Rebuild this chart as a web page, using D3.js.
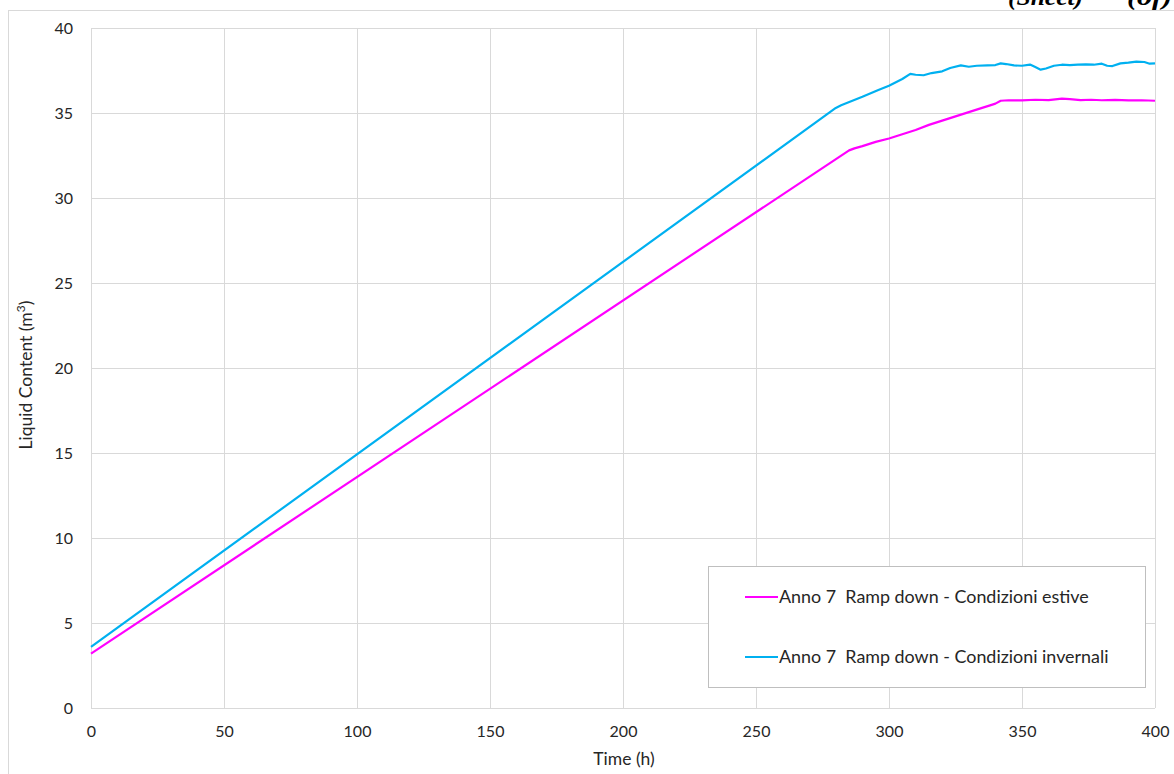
<!DOCTYPE html>
<html>
<head>
<meta charset="utf-8">
<script src="https://cdn.jsdelivr.net/npm/d3@7"></script>
<style>
  html, body { margin: 0; padding: 0; background: #fff; }
  svg { display: block; }
  text { font-family: Lato, "Open Sans", sans-serif; fill: #262626; }
</style>
</head>
<body>
<svg id="chart" width="1174" height="774"></svg>
<script>
// Liquid content over time, two seasonal scenarios
const xTicks = [0, 50, 100, 150, 200, 250, 300, 350, 400];
const yTicks = [0, 5, 10, 15, 20, 25, 30, 35, 40];

const seriesNames = [
  "Anno 7  Ramp down - Condizioni estive",
  "Anno 7  Ramp down - Condizioni invernali"
];
const seriesColors = ["#FF00FF", "#00B0F0"];

// Summer conditions (estive)
const estiveTime = [0, 285, 287, 290, 295, 300, 305, 310, 315, 320, 325, 330, 335, 338, 340,
  342, 345, 350, 355, 360, 365, 368, 372, 376, 380, 385, 390, 395, 400];
const estiveValue = [3.2, 32.8, 32.92, 33.05, 33.3, 33.5, 33.75, 34.0, 34.3, 34.55, 34.8, 35.05, 35.3, 35.45, 35.55,
  35.72, 35.75, 35.74, 35.78, 35.76, 35.85, 35.82, 35.76, 35.78, 35.75, 35.77, 35.74, 35.75, 35.72];

// Winter conditions (invernali)
const invernaliTime = [0, 280, 282, 290, 296, 300, 305, 308, 310, 313, 316, 320, 323, 327, 330, 333, 337, 340,
  342, 344, 347, 350, 353, 355, 357, 359, 362, 365, 368, 371, 374, 377, 380, 382, 384, 387, 390, 393, 396, 398, 400];
const invernaliValue = [3.6, 35.3, 35.45, 35.95, 36.35, 36.6, 37.0, 37.3, 37.25, 37.22, 37.35, 37.45, 37.65, 37.8, 37.72, 37.78, 37.8, 37.82,
  37.92, 37.88, 37.8, 37.78, 37.85, 37.7, 37.55, 37.62, 37.78, 37.84, 37.82, 37.85, 37.86, 37.84, 37.9, 37.78, 37.76, 37.92, 37.96, 38.02, 38.0, 37.9, 37.92];

const svg = d3.select("#chart");
const grid = "#D9D9D9";

// sheet frame
svg.append("line").attr("x1", 8.5).attr("x2", 8.5).attr("y1", 10.5).attr("y2", 774)
  .attr("stroke", grid).attr("stroke-width", 1);
svg.append("line").attr("x1", 8).attr("x2", 1174).attr("y1", 10.5).attr("y2", 10.5)
  .attr("stroke", grid).attr("stroke-width", 1);

// page header fragments
svg.append("text").attr("x", 1008).attr("y", 5)
  .attr("textLength", 75).attr("lengthAdjust", "spacingAndGlyphs")
  .style("font-family", "'Liberation Serif', serif").style("font-weight", "bold").style("font-style", "italic")
  .style("font-size", "24px").style("fill", "#000").text("(Sheet)");
svg.append("text").attr("x", 1127).attr("y", 5)
  .attr("textLength", 45).attr("lengthAdjust", "spacingAndGlyphs")
  .style("font-family", "'Liberation Serif', serif").style("font-weight", "bold").style("font-style", "italic")
  .style("font-size", "24px").style("fill", "#000").text("(of)");

const plot = { left: 91, right: 1155, top: 28, bottom: 708 };
const x = d3.scaleLinear().domain([0, 400]).range([plot.left, plot.right]);
const y = d3.scaleLinear().domain([0, 40]).range([plot.bottom, plot.top]);

// gridlines
svg.append("g").selectAll("line").data(xTicks).join("line")
  .attr("x1", d => Math.round(x(d)) + 0.5).attr("x2", d => Math.round(x(d)) + 0.5)
  .attr("y1", plot.top).attr("y2", plot.bottom)
  .attr("stroke", grid).attr("stroke-width", 1);
svg.append("g").selectAll("line").data(yTicks).join("line")
  .attr("x1", plot.left).attr("x2", plot.right)
  .attr("y1", d => Math.round(y(d)) + 0.5).attr("y2", d => Math.round(y(d)) + 0.5)
  .attr("stroke", grid).attr("stroke-width", 1);

// axes (labels only, no tick marks)
const xAxis = svg.append("g").attr("transform", `translate(0,${plot.bottom})`)
  .call(d3.axisBottom(x).tickValues(xTicks).tickSize(0).tickPadding(18));
xAxis.select(".domain").remove();
xAxis.selectAll("text").style("font-size", "16px").style("font-family", "Lato, sans-serif").attr("fill", "#262626");

const yAxis = svg.append("g").attr("transform", `translate(${plot.left},0)`)
  .call(d3.axisLeft(y).tickValues(yTicks).tickSize(0).tickPadding(18));
yAxis.select(".domain").remove();
yAxis.selectAll("text").style("font-size", "16px").style("font-family", "Lato, sans-serif").attr("fill", "#262626");

// axis titles
svg.append("text").attr("x", x(200) + 1).attr("y", 765).attr("text-anchor", "middle")
  .style("font-size", "17.5px").text("Time (h)");
const yt = svg.append("text").attr("transform", `translate(32,${(plot.top + plot.bottom) / 2 + 7}) rotate(-90)`)
  .attr("text-anchor", "middle").style("font-size", "17.5px");
yt.append("tspan").text("Liquid Content (m");
yt.append("tspan").attr("baseline-shift", "super").style("font-size", "12px").text("3");
yt.append("tspan").text(")");

// series lines
const line = d3.line().x(d => x(d[0])).y(d => y(d[1]));
const series = [
  d3.zip(estiveTime, estiveValue),
  d3.zip(invernaliTime, invernaliValue)
];
svg.append("g").selectAll("path").data(series).join("path")
  .attr("d", line)
  .attr("fill", "none")
  .attr("stroke", (d, i) => seriesColors[i])
  .attr("stroke-width", 2.2)
  .attr("stroke-linejoin", "round");

// legend
const lg = svg.append("g");
lg.append("rect").attr("x", 708.5).attr("y", 566.5).attr("width", 437).attr("height", 121)
  .attr("fill", "#fff").attr("stroke", "#BFBFBF").attr("stroke-width", 1);
const items = lg.selectAll("g.item").data(seriesNames).join("g")
  .attr("class", "item")
  .attr("transform", (d, i) => `translate(745,${597 + i * 60})`);
items.append("line").attr("x1", 0).attr("x2", 33).attr("y1", 0).attr("y2", 0)
  .attr("stroke", (d, i) => seriesColors[i]).attr("stroke-width", 2.2);
items.append("text").attr("x", 34).attr("y", 6)
  .style("font-size", "17.9px").style("white-space", "pre").text(d => d);
</script>
</body>
</html>
